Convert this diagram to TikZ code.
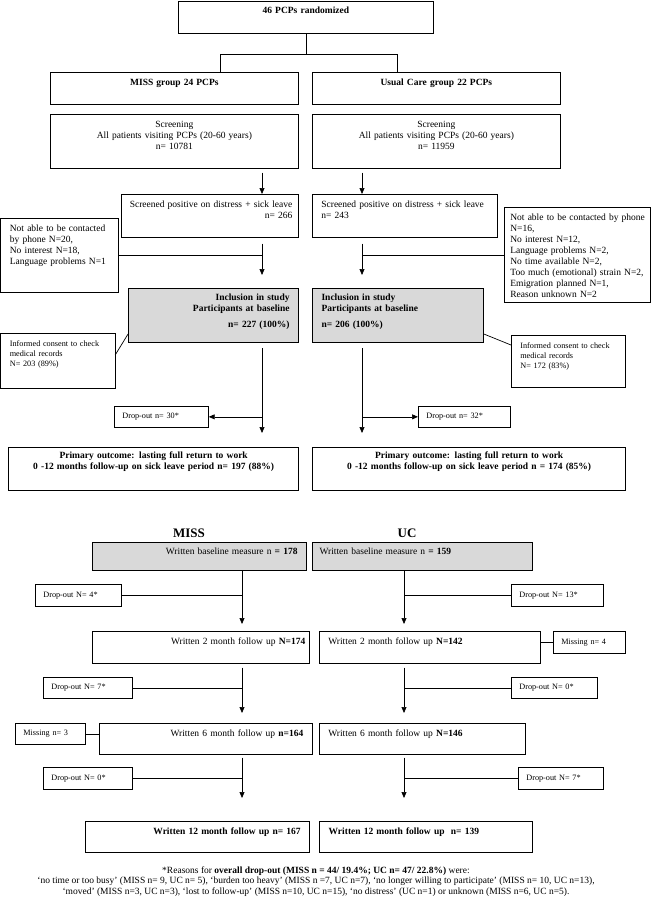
\documentclass[tikz,border=0pt]{standalone}
\usepackage{fontspec}
\setmainfont{Liberation Serif}
\usetikzlibrary{arrows.meta,calc}

\begin{document}
\begin{tikzpicture}[x=1pt,y=-1pt,line width=0.7pt,
    font=\fontsize{9.5}{11}\selectfont,
    box/.style={draw,anchor=north west,inner xsep=9pt,inner ysep=3pt,text height=10pt},
    shaded/.style={box,fill=black!15,line width=1.1pt},
    heavy/.style={box,line width=1.3pt},
    small/.style={font=\fontsize{8.2}{10}\selectfont},
    dropbox/.style={draw,anchor=north west,small,inner xsep=8pt,align=left},
    arr/.style={-{Triangle[length=6pt,width=5pt]}}]
\useasboundingbox (0,0) rectangle (652,900);

\node[box,text width=237pt,text depth=16pt,align=center] (rand) at (178,0.5) {\bfseries 46 PCPs randomized};
\node[box,text width=230pt,text depth=16pt,align=center] (miss) at (50,72) {\bfseries MISS group 24 PCPs};
\node[box,text width=230pt,text depth=16pt,align=center] (uc) at (312,72) {\bfseries Usual Care group 22 PCPs};
\node[box,text width=230pt,text depth=38pt,align=center] (scrA) at (50,114) {Screening\\All patients visiting PCPs (20-60 years)\\n= 10781};
\node[box,text width=230pt,text depth=38pt,align=center] (scrB) at (312,114) {Screening\\All patients visiting PCPs (20-60 years)\\n= 11959};
\node[box,inner xsep=6pt,text width=165pt,text depth=27pt,align=right] (posA) at (121,194) {Screened positive on distress + sick leave\\n= 266};
\node[box,text width=167pt,text depth=27pt,align=left] (posB) at (312,194) {Screened positive on distress + sick leave\\n= 243};
\node[box,text width=99pt,text depth=58pt,align=left] (exA) at (0.5,218) {Not able to be contacted\\by phone N=20,\\No interest N=18,\\Language problems N=1};
\node[box,inner xsep=6pt,text width=134pt,text depth=79pt,align=left] (exB) at (504,207) {\mbox{Not able to be contacted by phone}\\N=16,\\No interest N=12,\\Language problems N=2,\\No time available N=2,\\\mbox{Too much (emotional) strain N=2,}\\Emigration planned N=1,\\Reason unknown N=2};
\node[shaded,text height=9pt,text width=152pt,text depth=39pt,align=right] (incA) at (128,288) {\bfseries Inclusion in study\\Participants at baseline\\[5pt]n= 227 (100\%)};
\node[shaded,text height=9pt,text width=153pt,text depth=39pt,align=left] (incB) at (312,288) {\bfseries Inclusion in study\\Participants at baseline\\[5pt]n= 206 (100\%)};
\node[box,small,text width=96pt,text depth=39pt,align=left] (conA) at (0.5,333) {Informed consent to check\\medical records\\N= 203 (89\%)};
\node[box,small,text width=96pt,text depth=36pt,align=left] (conB) at (511,335) {Informed consent to check\\medical records\\N= 172 (83\%)};
\node[dropbox,text width=78pt,minimum height=21pt] (dropA) at (114,406) {Drop-out n= 30*};
\node[dropbox,text width=76pt,minimum height=21pt] (dropB) at (418,406) {Drop-out n= 32*};
\node[heavy,text height=7.5pt,text width=272pt,text depth=29.5pt,align=center] (outA) at (8,447) {\bfseries Primary outcome: lasting full return to work\\0 -12 months follow-up on sick leave period n= 197 (88\%)};
\node[heavy,text height=7.5pt,text width=295pt,text depth=29.5pt,align=center] (outB) at (312,447) {\bfseries Primary outcome: lasting full return to work\\0 -12 months follow-up on sick leave period n = 174 (85\%)};

\node[font=\fontsize{13}{15}\selectfont\bfseries] (lmiss) at (189,533) {MISS};
\node[font=\fontsize{13}{15}\selectfont\bfseries] (luc) at (407,533) {UC};
\node[shaded,text height=9pt,text width=196pt,text depth=13pt,align=right] (baseA) at (92,542) {Written baseline measure n \textbf{= 178}};
\node[shaded,inner xsep=7pt,text height=9pt,text width=206pt,text depth=13pt,align=left] (baseB) at (312,542) {Written baseline measure n \textbf{= 159}};
\node[dropbox,text width=70pt,minimum height=22pt] (d4) at (35,584) {Drop-out N= 4*};
\node[dropbox,text width=76pt,minimum height=22pt] (d13) at (511,584) {Drop-out N= 13*};
\node[box,inner xsep=4pt,text width=209pt,text depth=16pt,align=right] (m2A) at (92,631) {Written 2 month follow up \textbf{N=174}};
\node[box,text width=203pt,text depth=16pt,align=left] (m2B) at (319,631) {Written 2 month follow up \textbf{N=142}};
\node[dropbox,text width=56pt,minimum height=22pt] (miss4) at (553,631) {Missing n= 4};
\node[dropbox,text width=73pt,minimum height=21pt] (d7) at (43,677) {Drop-out N= 7*};
\node[dropbox,text width=70pt,minimum height=21pt] (d0R) at (511,677) {Drop-out N= 0*};
\node[dropbox,text width=54pt,minimum height=21pt] (miss3) at (15,723) {Missing n= 3};
\node[box,text width=195pt,text depth=15pt,align=right] (m6A) at (99,723) {Written 6 month follow up \textbf{n=164}};
\node[box,text width=188pt,text depth=15pt,align=left] (m6B) at (319,723) {Written 6 month follow up \textbf{N=146}};
\node[dropbox,text width=73pt,minimum height=22pt] (d0L) at (43,767) {Drop-out N= 0*};
\node[dropbox,text width=69pt,minimum height=22pt] (d7R) at (518,767) {Drop-out N= 7*};
\node[heavy,text width=206pt,text depth=15pt,align=right] (m12A) at (85,821) {\bfseries Written 12 month follow up n= 167};
\node[heavy,text width=195pt,text depth=15pt,align=left] (m12B) at (319,821) {\bfseries Written 12 month follow up\ \ n= 139};
\node[align=center,anchor=north,inner sep=0pt,font=\fontsize{9.5}{10.7}\selectfont] (foot) at (316,866) {*Reasons for \textbf{overall drop-out (MISS n = 44/ 19.4\%; UC n= 47/ 22.8\%)} were:\\
  `no time or too busy' (MISS n= 9, UC n= 5), `burden too heavy' (MISS n =7, UC n=7), `no longer willing to participate' (MISS n= 10, UC n=13),\\
  `moved' (MISS n=3, UC n=3), `lost to follow-up' (MISS n=10, UC n=15), `no distress' (UC n=1) or unknown (MISS n=6, UC n=5).};

\coordinate (cA) at (262,0);
\coordinate (cB) at (362,0);
\coordinate (dA) at (242,0);
\coordinate (dB) at (404,0);

\draw (rand.south) -- ++(0,21) coordinate (fork);
\draw ($(miss.north west)+(170,0)$) |- (fork) -| ($(uc.north west)+(85,0)$);
\draw[arr] ($(scrA.south -| cA)+(0,4)$) -- (posA.north -| cA);
\draw[arr] ($(scrB.south -| cB)+(0,4)$) -- (posB.north -| cB);
\draw[arr] ($(posA.south -| cA)+(0,6)$) -- ($(incA.north -| cA)+(0,-13)$);
\draw[arr] ($(posB.south -| cB)+(0,6)$) -- ($(incB.north -| cB)+(0,-13)$);
\draw (exA.east) -- (exA.east -| cA);
\draw (exB.west) -- (exB.west -| cB);
\draw ($(conA.north east)+(0,22)$) -- ($(incA.south west)+(0,-9)$);
\draw ($(incB.south east)+(0,-9)$) -- ($(conB.north west)+(0,10)$);
\draw[arr] ($(incA.south -| cA)+(0,5)$) -- ($(outA.north -| cA)+(0,-14)$);
\draw[arr] ($(incB.south -| cB)+(0,5)$) -- ($(outB.north -| cB)+(0,-14)$);
\draw[arr] (dropA.east -| cA) -- (dropA.east);
\draw[arr] (dropB.west -| cB) -- (dropB.west);

\draw[arr] (baseA.south -| dA) -- ($(m2A.north -| dA)+(0,-7)$);
\draw[arr] (baseB.south -| dB) -- ($(m2B.north -| dB)+(0,-7)$);
\draw (d4.east) -- (d4.east -| dA);
\draw (d13.west) -- (d13.west -| dB);
\draw (m2B.east |- miss4.west) -- (miss4.west);
\draw[arr] ($(m2A.south -| dA)+(0,4)$) -- ($(m6A.north -| dA)+(0,-10)$);
\draw[arr] ($(m2B.south -| dB)+(0,4)$) -- ($(m6B.north -| dB)+(0,-10)$);
\draw (d7.east) -- (d7.east -| dA);
\draw (d0R.west) -- (d0R.west -| dB);
\draw (miss3.east) -- (miss3.east -| m6A.west);
\draw[arr] ($(m6A.south -| dA)+(0,3)$) -- ($(m12A.north -| dA)+(0,-23)$);
\draw[arr] ($(m6B.south -| dB)+(0,3)$) -- ($(m12B.north -| dB)+(0,-23)$);
\draw (d0L.east) -- (d0L.east -| dA);
\draw (d7R.west) -- (d7R.west -| dB);
\end{tikzpicture}
\end{document}
